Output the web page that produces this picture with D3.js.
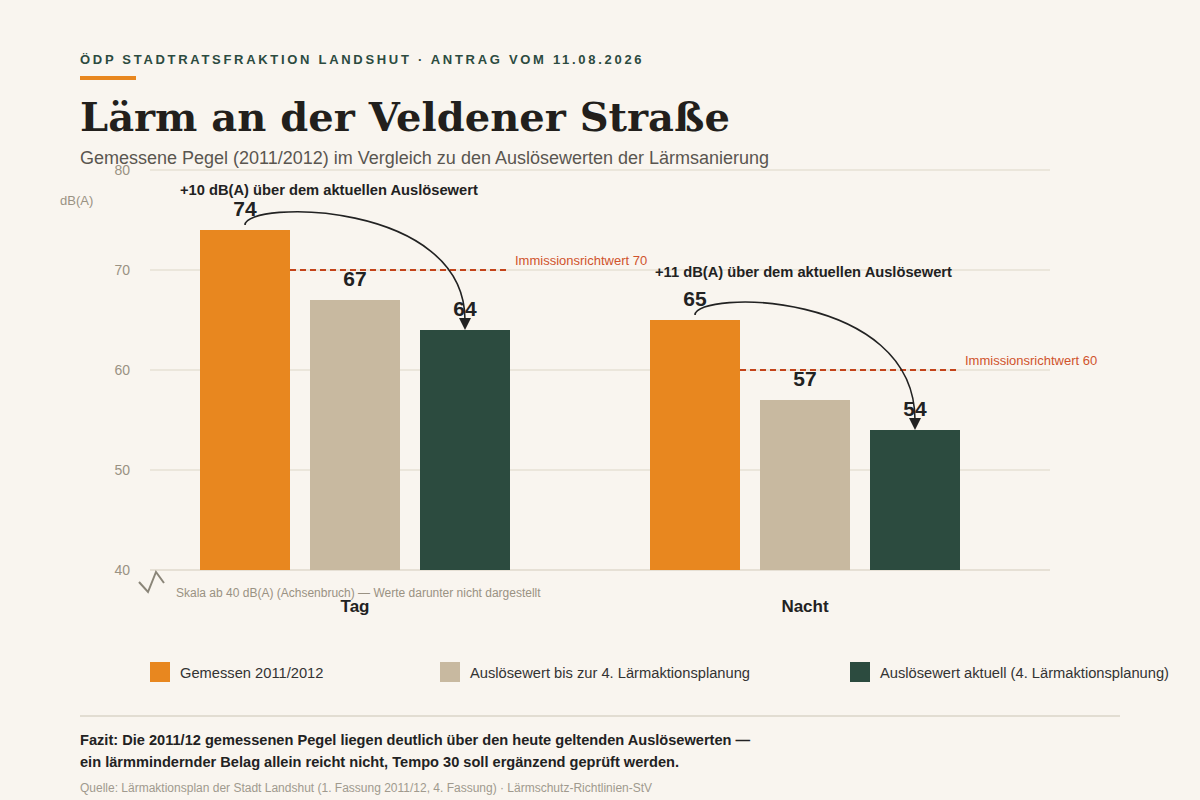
<!DOCTYPE html>
<html lang="de">
<head>
<meta charset="utf-8">
<title>Lärm an der Veldener Straße</title>
<script src="https://cdn.jsdelivr.net/npm/d3@7"></script>
<style>
  html, body { margin: 0; padding: 0; background: #f9f5ef; }
  svg { display: block; font-family: "Liberation Sans", Arial, sans-serif; }
</style>
</head>
<body>
<svg id="chart" width="1200" height="800"></svg>
<script>
'use strict';

// data
var groups = ['Tag', 'Nacht'];
var seriesNames = ['Gemessen 2011/2012', 'Auslösewert bis zur 4. Lärmaktionsplanung', 'Auslösewert aktuell (4. Lärmaktionsplanung)'];
var seriesKeys = ['gemessen', 'alt', 'aktuell'];
var gemessen = [74, 65];
var ausloeseAlt = [67, 57];
var ausloeseAktuell = [64, 54];
var immissionsrichtwert = [70, 60];
var yTicks = [40, 50, 60, 70, 80];

var colors = { gemessen: '#e8871f', alt: '#c8b9a0', aktuell: '#2c4b3f' };
var values = { gemessen: gemessen, alt: ausloeseAlt, aktuell: ausloeseAktuell };

var svg = d3.select('#chart');

svg.append('rect').attr('width', 1200).attr('height', 800).attr('fill', '#f9f5ef');

// header
svg.append('text').attr('x', 80).attr('y', 64)
  .attr('font-size', 13).attr('font-weight', 'bold').attr('letter-spacing', 2.7)
  .attr('fill', '#2c4b3f')
  .text('ÖDP STADTRATSFRAKTION LANDSHUT · ANTRAG VOM 11.08.2026');
svg.append('rect').attr('x', 80).attr('y', 76).attr('width', 56).attr('height', 4).attr('fill', '#e8871f');
svg.append('text').attr('x', 80).attr('y', 131)
  .attr('font-family', '"DejaVu Serif", Georgia, serif').attr('font-weight', 'bold')
  .attr('font-size', 40).attr('fill', '#221f1c')
  .text('Lärm an der Veldener Straße');
svg.append('text').attr('x', 80).attr('y', 164)
  .attr('font-size', 18).attr('fill', '#5a5650')
  .text('Gemessene Pegel (2011/2012) im Vergleich zu den Auslösewerten der Lärmsanierung');

// scales
var plotLeft = 150, plotRight = 1050;
var y = d3.scaleLinear().domain([40, 80]).range([570, 170]);
var x0 = d3.scaleBand().domain(groups).range([200, 1100]);
var x1 = d3.scaleBand().domain(seriesKeys).range([0, 310]).paddingInner(20 / 110);

// grid
var grid = svg.append('g');
grid.selectAll('line').data(yTicks).enter().append('line')
  .attr('x1', plotLeft).attr('x2', plotRight)
  .attr('y1', function(d) { return y(d); }).attr('y2', function(d) { return y(d); })
  .attr('stroke', '#e6e0d5').attr('stroke-width', function(d) { return d === 40 ? 2 : 1.5; });

var yAxis = svg.append('g').attr('transform', 'translate(130,0)')
  .call(d3.axisLeft(y).tickValues(yTicks).tickSize(0).tickPadding(0));
yAxis.select('.domain').remove();
yAxis.selectAll('text').attr('font-size', 14).attr('fill', '#9a9283')
  .attr('font-family', '"Liberation Sans", Arial, sans-serif').attr('dy', '0.3em');

svg.append('text').attr('x', 60).attr('y', 205).attr('font-size', 13).attr('fill', '#9a9283').text('dB(A)');

// axis break
svg.append('path').attr('d', 'M139,582 L148,592 L156,572 L164,583')
  .attr('fill', 'none').attr('stroke', '#8a8578').attr('stroke-width', 2);
svg.append('text').attr('x', 176).attr('y', 597).attr('font-size', 12).attr('fill', '#9a9283')
  .text('Skala ab 40 dB(A) (Achsenbruch) — Werte darunter nicht dargestellt');

// bars
var groupSel = svg.selectAll('g.group').data(groups).enter().append('g')
  .attr('class', 'group')
  .attr('transform', function(d) { return 'translate(' + x0(d) + ',0)'; });

groupSel.each(function(g, gi) {
  var sel = d3.select(this);
  var rows = seriesKeys.map(function(k) { return { key: k, value: values[k][gi] }; });

  sel.selectAll('rect').data(rows).enter().append('rect')
    .attr('x', function(d) { return x1(d.key); })
    .attr('width', x1.bandwidth())
    .attr('y', function(d) { return y(d.value); })
    .attr('height', function(d) { return y(40) - y(d.value); })
    .attr('fill', function(d) { return colors[d.key]; });

  // immissionsrichtwert line
  var ir = immissionsrichtwert[gi];
  sel.append('line')
    .attr('x1', x1('gemessen') + x1.bandwidth()).attr('x2', x1('aktuell') + x1.bandwidth())
    .attr('y1', y(ir)).attr('y2', y(ir))
    .attr('stroke', '#c4441a').attr('stroke-width', 2).attr('stroke-dasharray', '6,4');
  sel.append('text')
    .attr('x', x1('aktuell') + x1.bandwidth() + 5).attr('y', y(ir) - 5)
    .attr('font-size', 13).attr('fill', '#d0532c')
    .text('Immissionsrichtwert ' + ir);

  // arrow from measured to current trigger value
  var xa = x1('gemessen') + x1.bandwidth() / 2;
  var xb = x1('aktuell') + x1.bandwidth() / 2;
  var ya = y(rows[0].value) - 5;
  var yb = y(rows[2].value);
  var cy = ya - 25;
  sel.append('path')
    .attr('d', 'M' + xa + ',' + ya + ' C' + xa + ',' + cy + ' ' + xb + ',' + cy + ' ' + xb + ',' + (yb - 10))
    .attr('fill', 'none').attr('stroke', '#222').attr('stroke-width', 1.6);
  sel.append('path')
    .attr('d', 'M' + (xb - 6) + ',' + (yb - 12) + ' L' + (xb + 6) + ',' + (yb - 12) + ' L' + xb + ',' + yb + ' Z')
    .attr('fill', '#222');

  // value labels
  sel.selectAll('text.val').data(rows).enter().append('text')
    .attr('class', 'val')
    .attr('x', function(d) { return x1(d.key) + x1.bandwidth() / 2; })
    .attr('y', function(d) { return y(d.value) - 14; })
    .attr('text-anchor', 'middle').attr('font-size', 21).attr('font-weight', 'bold').attr('fill', '#222')
    .text(function(d) { return d.value; });

  // annotation
  var diff = rows[0].value - rows[2].value;
  sel.append('text')
    .attr('x', gi === 0 ? -20 : 5).attr('y', y(rows[0].value) - (gi === 0 ? 35 : 43))
    .attr('font-size', 14.7).attr('font-weight', 'bold').attr('fill', '#222')
    .text('+' + diff + ' dB(A) über dem aktuellen Auslösewert');

  // category label
  sel.append('text')
    .attr('x', 155).attr('y', 612)
    .attr('text-anchor', 'middle').attr('font-size', 17).attr('font-weight', 'bold').attr('fill', '#222')
    .text(g);
});

// legend
var legendX = [150, 440, 850];
var legend = svg.selectAll('g.legend').data(seriesKeys).enter().append('g')
  .attr('class', 'legend')
  .attr('transform', function(d, i) { return 'translate(' + legendX[i] + ',662)'; });
legend.append('rect').attr('width', 20).attr('height', 20).attr('fill', function(d) { return colors[d]; });
legend.append('text').attr('x', 30).attr('y', 16).attr('font-size', 14.7).attr('fill', '#333')
  .text(function(d, i) { return seriesNames[i]; });

// footer
svg.append('line').attr('x1', 80).attr('x2', 1120).attr('y1', 716).attr('y2', 716)
  .attr('stroke', '#e2ddd2').attr('stroke-width', 2);
svg.append('text').attr('x', 80).attr('y', 745).attr('font-size', 14.6).attr('font-weight', 'bold').attr('fill', '#222')
  .text('Fazit: Die 2011/12 gemessenen Pegel liegen deutlich über den heute geltenden Auslösewerten —');
svg.append('text').attr('x', 80).attr('y', 767).attr('font-size', 14.6).attr('font-weight', 'bold').attr('fill', '#222')
  .text('ein lärmmindernder Belag allein reicht nicht, Tempo 30 soll ergänzend geprüft werden.');
svg.append('text').attr('x', 80).attr('y', 792).attr('font-size', 12).attr('fill', '#a09a8e')
  .text('Quelle: Lärmaktionsplan der Stadt Landshut (1. Fassung 2011/12, 4. Fassung) · Lärmschutz-Richtlinien-StV');
</script>
</body>
</html>
